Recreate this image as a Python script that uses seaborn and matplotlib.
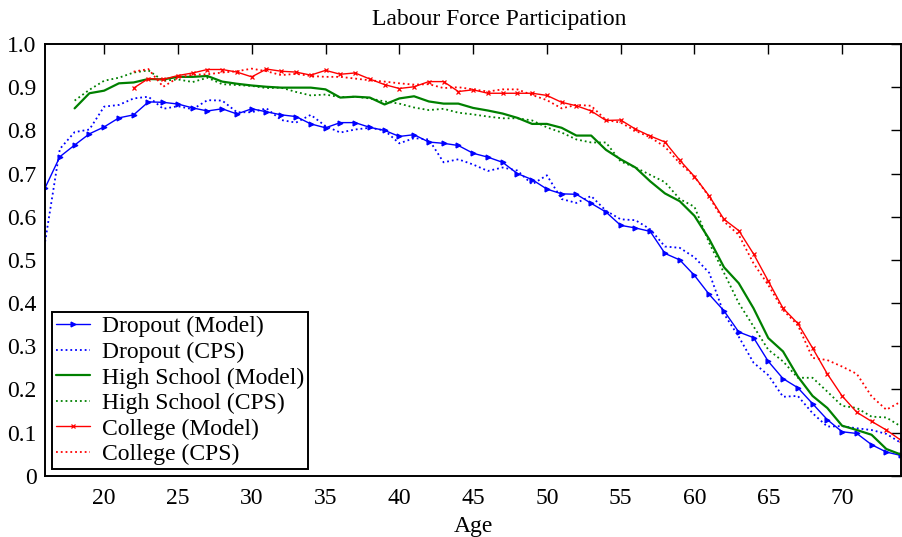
import numpy as np
import pandas as pd
import matplotlib
matplotlib.use("Agg")
import matplotlib.pyplot as plt
import seaborn as sns

sns.set_theme(style="white")
plt.rcParams['font.family'] = ['Liberation Serif', 'DejaVu Serif']
plt.rcParams['text.color'] = 'black'
plt.rcParams['axes.labelcolor'] = 'black'

# Ages per education group
ages_dropout = list(range(16, 75))
ages_hs = list(range(18, 75))
ages_college = list(range(22, 75))

dropout_model = [0.667, 0.739, 0.766, 0.792, 0.808, 0.829, 0.836, 0.866, 0.865, 0.861,
                 0.852, 0.845, 0.850, 0.838, 0.850, 0.843, 0.836, 0.832, 0.815, 0.806,
                 0.818, 0.818, 0.807, 0.800, 0.786, 0.790, 0.773, 0.770, 0.765, 0.747,
                 0.738, 0.726, 0.700, 0.686, 0.664, 0.653, 0.652, 0.631, 0.611, 0.580,
                 0.574, 0.566, 0.515, 0.500, 0.464, 0.420, 0.382, 0.333, 0.320, 0.265,
                 0.225, 0.204, 0.167, 0.130, 0.102, 0.098, 0.072, 0.055, 0.047]
dropout_cps = [0.542, 0.757, 0.796, 0.802, 0.855, 0.859, 0.874, 0.878, 0.850, 0.856,
               0.849, 0.870, 0.869, 0.842, 0.842, 0.851, 0.824, 0.818, 0.836, 0.810,
               0.795, 0.802, 0.806, 0.800, 0.770, 0.782, 0.779, 0.726, 0.733, 0.721,
               0.706, 0.714, 0.707, 0.675, 0.696, 0.641, 0.632, 0.648, 0.614, 0.594,
               0.592, 0.571, 0.531, 0.528, 0.506, 0.470, 0.375, 0.322, 0.262, 0.233,
               0.183, 0.185, 0.145, 0.114, 0.115, 0.110, 0.106, 0.097, 0.076]
hs_model = [0.851, 0.886, 0.892, 0.909, 0.911, 0.919, 0.918, 0.924, 0.924, 0.926,
            0.913, 0.908, 0.904, 0.901, 0.899, 0.899, 0.899, 0.895, 0.876, 0.878,
            0.876, 0.860, 0.874, 0.879, 0.867, 0.862, 0.862, 0.852, 0.846, 0.839,
            0.829, 0.815, 0.815, 0.806, 0.788, 0.788, 0.755, 0.733, 0.714, 0.682,
            0.654, 0.636, 0.602, 0.548, 0.483, 0.446, 0.388, 0.319, 0.288, 0.230,
            0.185, 0.157, 0.116, 0.106, 0.095, 0.062, 0.049]
hs_cps = [0.869, 0.894, 0.915, 0.922, 0.934, 0.939, 0.915, 0.918, 0.912, 0.922,
          0.907, 0.905, 0.903, 0.898, 0.899, 0.889, 0.881, 0.883, 0.877, 0.878,
          0.874, 0.867, 0.862, 0.853, 0.847, 0.850, 0.841, 0.837, 0.832, 0.828,
          0.828, 0.823, 0.807, 0.795, 0.779, 0.772, 0.772, 0.728, 0.714, 0.697,
          0.680, 0.641, 0.623, 0.539, 0.470, 0.400, 0.346, 0.292, 0.265, 0.227,
          0.227, 0.195, 0.162, 0.157, 0.137, 0.135, 0.114]
college_model = [0.898, 0.920, 0.918, 0.927, 0.933, 0.941, 0.941, 0.935, 0.924, 0.942,
                 0.937, 0.935, 0.928, 0.939, 0.930, 0.933, 0.919, 0.906, 0.897, 0.901,
                 0.913, 0.913, 0.890, 0.894, 0.886, 0.886, 0.886, 0.886, 0.881, 0.865,
                 0.857, 0.845, 0.823, 0.824, 0.803, 0.787, 0.773, 0.731, 0.693, 0.648,
                 0.594, 0.568, 0.514, 0.451, 0.388, 0.353, 0.296, 0.236, 0.185, 0.147,
                 0.126, 0.106, 0.082]
college_cps = [0.936, 0.942, 0.901, 0.922, 0.929, 0.930, 0.934, 0.937, 0.943, 0.937,
               0.928, 0.931, 0.926, 0.924, 0.924, 0.920, 0.916, 0.913, 0.909, 0.906,
               0.907, 0.898, 0.900, 0.895, 0.890, 0.895, 0.895, 0.882, 0.870, 0.851,
               0.859, 0.857, 0.824, 0.818, 0.799, 0.784, 0.762, 0.724, 0.693, 0.646,
               0.589, 0.558, 0.492, 0.442, 0.384, 0.349, 0.273, 0.268, 0.253, 0.236,
               0.184, 0.153, 0.172]

series = [
    ("Dropout (Model)", ages_dropout, dropout_model, "#0000ff", "-", ">", 1.0),
    ("Dropout (CPS)", ages_dropout, dropout_cps, "#0000ff", ":", None, 1.3),
    ("High School (Model)", ages_hs, hs_model, "#008000", "-", None, 1.6),
    ("High School (CPS)", ages_hs, hs_cps, "#008000", ":", None, 1.3),
    ("College (Model)", ages_college, college_model, "#ff0000", "-", "x", 1.0),
    ("College (CPS)", ages_college, college_cps, "#ff0000", ":", None, 1.3),
]

fig = plt.figure(figsize=(9.02, 5.37), dpi=100)
ax = fig.add_axes([0.05, 0.114, 0.949, 0.804])

for label, x, y, color, ls, marker, lw in series:
    sns.lineplot(x=x, y=y, ax=ax, label=label, color=color, linestyle=ls,
                 linewidth=lw, marker=marker, markersize=3.5,
                 markeredgewidth=0.9, markeredgecolor=color)

ax.set_xlim(16, 74)
ax.set_ylim(0, 1.0)
ax.set_xticks([20, 25, 30, 35, 40, 45, 50, 55, 60, 65, 70])
ax.set_yticks(np.arange(0, 1.01, 0.1))
ax.set_yticklabels(["0"] + [f"{v:.1f}" for v in np.arange(0.1, 1.01, 0.1)])
ax.tick_params(direction="in", top=True, right=True, length=7, width=1,
               labelsize=17, colors="black")
ax.tick_params(axis="y", pad=6)
ax.tick_params(axis="x", pad=9)
for s in ax.spines.values():
    s.set_color("black")
    s.set_linewidth(1.4)

ax.set_title("Labour Force Participation", fontsize=17, pad=14, x=0.53)
ax.set_xlabel("Age", fontsize=17, labelpad=5)
ax.set_ylabel("")

leg = ax.legend(loc="lower left", fontsize=17, frameon=True, fancybox=False,
                borderpad=0.15, labelspacing=0.17, handlelength=1.45,
                handletextpad=0.5, borderaxespad=0.3)
leg.get_frame().set_edgecolor("black")
leg.get_frame().set_linewidth(1.4)
leg.get_frame().set_alpha(1)

fig.savefig("out.png", dpi=100)
